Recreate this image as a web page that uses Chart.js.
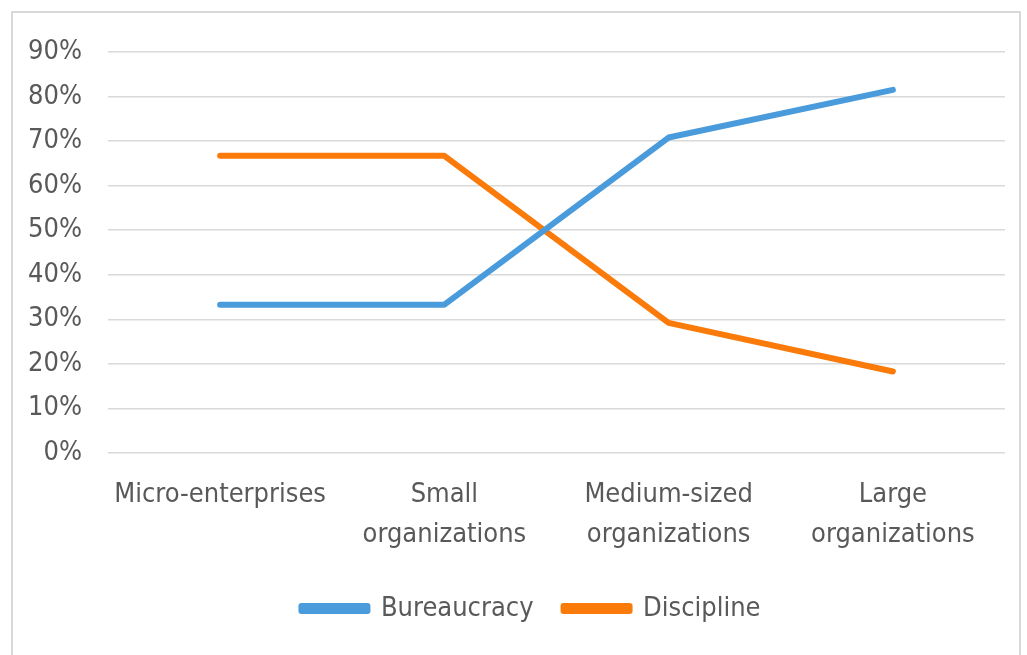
<!DOCTYPE html>
<html>
<head>
<meta charset="utf-8">
<script src="https://cdn.jsdelivr.net/npm/chart.js@4.4.0/dist/chart.umd.min.js"></script>
<style>
  html, body { margin: 0; padding: 0; background: #fff; }
  #wrap { position: relative; width: 1027px; height: 655px; overflow: hidden; }
  #frame { position: absolute; left: 11px; top: 11px; width: 1010px; height: 700px; border: 2px solid #d9d9d9; box-sizing: border-box; }
  canvas { position: absolute; left: 0; top: 0; }
</style>
</head>
<body>
<div id="wrap">
  <div id="frame"></div>
  <canvas id="c" width="1062" height="655"></canvas>
</div>
<script>
const categories = [
  'Micro-enterprises',
  ['Small', 'organizations'],
  ['Medium-sized', 'organizations'],
  ['Large', 'organizations']
];
const bureaucracy = [33.3, 33.3, 70.8, 81.5];
const discipline = [66.7, 66.7, 29.2, 18.3];
const yTicks = [0, 10, 20, 30, 40, 50, 60, 70, 80, 90];

const FONT = '"DejaVu Sans Condensed", "Liberation Sans Narrow", "Liberation Sans", sans-serif';
const TXT = '#595959';

new Chart(document.getElementById('c'), {
  type: 'line',
  data: {
    labels: categories,
    datasets: [
      { label: 'Bureaucracy', data: bureaucracy, borderColor: '#4A9BDB', backgroundColor: '#4A9BDB',
        borderWidth: 6, pointRadius: 0, tension: 0, borderCapStyle: 'round', borderJoinStyle: 'round' },
      { label: 'Discipline', data: discipline, borderColor: '#FA7A0A', backgroundColor: '#FA7A0A',
        borderWidth: 6, pointRadius: 0, tension: 0, borderCapStyle: 'round', borderJoinStyle: 'round' }
    ]
  },
  options: {
    responsive: false,
    animation: false,
    layout: { padding: { top: 52, right: 0, bottom: 23, left: 0 } },
    plugins: {
      tooltip: { enabled: false },
      legend: {
        position: 'bottom',
        labels: {
          color: TXT,
          font: { family: FONT, size: 27 },
          boxWidth: 66, boxHeight: 5, padding: 30
        }
      }
    },
    scales: {
      x: {
        offset: true,
        grid: { display: false },
        border: { display: false },
        ticks: { color: TXT, font: { family: FONT, size: 27, lineHeight: 1.48 }, padding: 14, maxRotation: 0, autoSkip: false },
        afterFit: (s) => { s.height = 112; }
      },
      y: {
        min: 0, max: 90,
        afterBuildTicks: (s) => { s.ticks = yTicks.map(v => ({ value: v })); },
        grid: { color: '#d9d9d9', lineWidth: 1.5, drawTicks: false },
        border: { display: false },
        ticks: { color: TXT, font: { family: FONT, size: 27 }, padding: 26, callback: (v) => v + '%' },
        afterFit: (s) => { s.width = 108; }
      },
      spacer: {
        type: 'linear',
        position: 'right',
        min: 0, max: 90,
        grid: { display: false, drawTicks: false },
        border: { display: false },
        ticks: { display: false },
        afterFit: (s) => { s.width = 57; }
      }
    }
  }
});
</script>
</body>
</html>
